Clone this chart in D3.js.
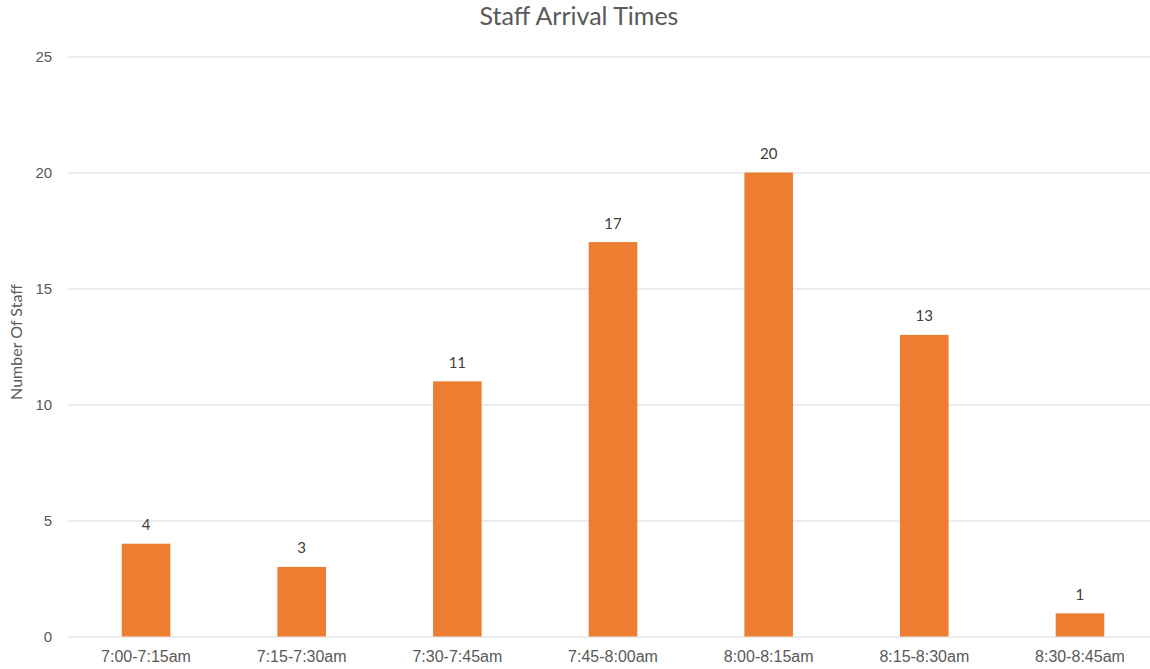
<!DOCTYPE html>
<html>
<head>
<meta charset="utf-8">
<script src="https://cdn.jsdelivr.net/npm/d3@7"></script>
<style>
  html, body { margin: 0; padding: 0; background: #fff; overflow: hidden; }
  svg { display: block; font-family: Lato, "Open Sans", "Liberation Sans", sans-serif; }
</style>
</head>
<body>
<svg id="chart" width="1150" height="669"></svg>
<script>
// Arrival time slots and staff counts
const categories = ["7:00-7:15am", "7:15-7:30am", "7:30-7:45am", "7:45-8:00am", "8:00-8:15am", "8:15-8:30am", "8:30-8:45am"];
const staffCounts = [4, 3, 11, 17, 20, 13, 1];
const yTicks = [0, 5, 10, 15, 20, 25];

const svg = d3.select("#chart");
const margin = { left: 68.2, right: 1157.8, top: 56.5, bottom: 636.5 };

const x = d3.scaleBand()
  .domain(categories)
  .range([margin.left, margin.right])
  .paddingInner(0.688)
  .paddingOuter(0.344);

const y = d3.scaleLinear()
  .domain([0, 25])
  .range([margin.bottom, margin.top]);

// Gridlines and y tick labels
const yAxis = d3.axisLeft(y).tickValues(yTicks).tickSize(-(margin.right - margin.left)).tickPadding(16);
const gy = svg.append("g").attr("transform", `translate(${margin.left},0)`).call(yAxis);
gy.select(".domain").remove();
gy.selectAll(".tick line").attr("stroke", "#d9d9d9").attr("stroke-width", 1.2);
gy.selectAll(".tick text").attr("fill", "#595959").attr("font-size", 15).attr("x", -16);

// X axis labels
const xAxis = d3.axisBottom(x).tickSize(0).tickPadding(14);
const gx = svg.append("g").attr("transform", `translate(0,${margin.bottom})`).call(xAxis);
gx.select(".domain").remove();
gx.selectAll(".tick text").attr("fill", "#595959").attr("font-size", 16);

// Bars
svg.append("g").selectAll("rect")
  .data(staffCounts)
  .join("rect")
  .attr("x", (d, i) => x(categories[i]))
  .attr("y", d => y(d))
  .attr("width", x.bandwidth())
  .attr("height", d => y(0) - y(d))
  .attr("fill", "#ed7d31");

// Value labels
svg.append("g").selectAll("text")
  .data(staffCounts)
  .join("text")
  .attr("x", (d, i) => x(categories[i]) + x.bandwidth() / 2)
  .attr("y", d => y(d) - 13.5)
  .attr("text-anchor", "middle")
  .attr("fill", "#404040")
  .attr("font-size", 15)
  .text(d => d);

// Title
svg.append("text")
  .attr("x", 579)
  .attr("y", 25)
  .attr("text-anchor", "middle")
  .attr("fill", "#595959")
  .attr("font-size", 25)
  .text("Staff Arrival Times");

// Y axis title
svg.append("text")
  .attr("transform", "translate(22,342) rotate(-90)")
  .attr("text-anchor", "middle")
  .attr("fill", "#595959")
  .attr("font-size", 16)
  .text("Number Of Staff");
</script>
</body>
</html>
